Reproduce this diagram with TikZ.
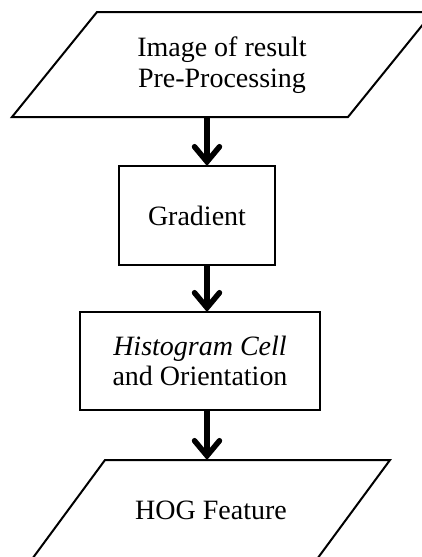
\documentclass[tikz,border=0pt]{standalone}
\usepackage{fontspec}
\setmainfont{Liberation Serif}
\usetikzlibrary{arrows.meta}
\begin{document}
\begin{tikzpicture}[x=1pt,y=-1pt,
  shapeline/.style={draw=black,line width=2pt,line join=miter},
  lbl/.style={align=center,font=\fontsize{28}{30.5}\selectfont,inner sep=0pt},
  flow/.style={line width=5.5pt,-{Straight Barb[length=15pt,width=25pt,line cap=round]}}]
\useasboundingbox (0,0) rectangle (422,557);
\clip (0,0) rectangle (422,557);
% top parallelogram
\draw[shapeline] (97,12) -- (433,12) -- (348,117) -- (12,117) -- cycle;
\node[lbl] (inp) at (222,65) {Image of result\\Pre-Processing};
\coordinate (inpb) at (207,117);
% gradient box
\draw[shapeline] (119,166) rectangle (275,265);
\node[lbl] (grad) at (197,216) {Gradient};
\coordinate (gradt) at (207,166);
\coordinate (gradb) at (207,265);
% histogram box
\draw[shapeline] (80,312) rectangle (320,410);
\node[lbl] (hist) at (200,361) {\textit{Histogram Cell}\\and Orientation};
\coordinate (histt) at (207,312);
\coordinate (histb) at (207,410);
% bottom parallelogram
\draw[shapeline] (105,460) -- (390,460) -- (309,570) -- (24,570) -- cycle;
\node[lbl] (hog) at (211,510) {HOG Feature};
\coordinate (hogt) at (207,460);
% arrows
\draw[flow] (inpb) -- (gradt);
\draw[flow] (gradb) -- (histt);
\draw[flow] (histb) -- (hogt);
\end{tikzpicture}
\end{document}
